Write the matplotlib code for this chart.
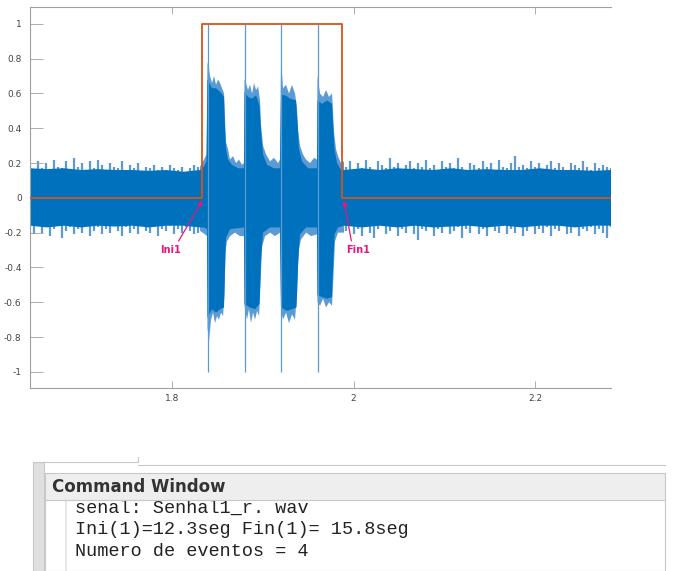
import numpy as np
import matplotlib
matplotlib.use("Agg")
import matplotlib.pyplot as plt
from matplotlib.patches import Rectangle

# --- data ------------------------------------------------------------------
# spiky peaks of the baseline noise, evenly sampled
left_top = [0.19, 0.16, 0.21, 0.17, 0.20, 0.15, 0.22, 0.18, 0.17, 0.21, 0.16,
            0.23, 0.18, 0.20, 0.16, 0.21, 0.17, 0.22, 0.19, 0.16, 0.20, 0.18,
            0.17, 0.21, 0.16, 0.19, 0.17, 0.20, 0.15, 0.18, 0.17, 0.19, 0.16,
            0.18, 0.15, 0.19, 0.17, 0.16, 0.18, 0.15, 0.17, 0.19, 0.18]
left_bot = [-0.18, -0.21, -0.16, -0.20, -0.17, -0.22, -0.18, -0.16, -0.23,
            -0.19, -0.17, -0.21, -0.18, -0.20, -0.16, -0.22, -0.19, -0.17,
            -0.21, -0.18, -0.20, -0.16, -0.19, -0.22, -0.17, -0.20, -0.18,
            -0.21, -0.16, -0.19, -0.20, -0.17, -0.22, -0.18, -0.19, -0.16,
            -0.21, -0.18, -0.20, -0.17, -0.19, -0.21, -0.20]
right_top = [0.18, 0.21, 0.16, 0.20, 0.17, 0.22, 0.18, 0.16, 0.21, 0.19,
             0.17, 0.23, 0.18, 0.20, 0.16, 0.19, 0.21, 0.17, 0.20, 0.18,
             0.22, 0.17, 0.19, 0.16, 0.21, 0.18, 0.20, 0.17, 0.23, 0.18,
             0.16, 0.20, 0.19, 0.17, 0.21, 0.18, 0.20, 0.16, 0.22, 0.18,
             0.17, 0.20, 0.24, 0.18, 0.19, 0.17, 0.21, 0.18, 0.20, 0.16,
             0.19, 0.21, 0.17, 0.20, 0.18, 0.16, 0.20, 0.19, 0.17, 0.21,
             0.18, 0.16, 0.20, 0.17, 0.19, 0.18, 0.17]
right_bot = [-0.19, -0.16, -0.21, -0.18, -0.22, -0.17, -0.20, -0.23, -0.18, -0.16,
             -0.21, -0.19, -0.17, -0.22, -0.18, -0.20, -0.16, -0.21, -0.24, -0.18,
             -0.19, -0.17, -0.22, -0.18, -0.20, -0.16, -0.21, -0.19, -0.17, -0.23,
             -0.18, -0.20, -0.16, -0.21, -0.18, -0.22, -0.17, -0.19, -0.20, -0.16,
             -0.21, -0.18, -0.20, -0.17, -0.22, -0.19, -0.16, -0.21, -0.18, -0.20,
             -0.17, -0.22, -0.18, -0.19, -0.16, -0.21, -0.20, -0.17, -0.22, -0.18,
             -0.19, -0.17, -0.21, -0.18, -0.20, -0.23, -0.17]

# outer envelope inside the detection window
burst_top_x = [1.8309, 1.8331, 1.8353, 1.8380, 1.8391, 1.8408, 1.8419, 1.8441,
               1.8463, 1.8485, 1.8507, 1.8529, 1.8551, 1.8573, 1.8584, 1.8595,
               1.8617, 1.8639, 1.8672, 1.8705, 1.8738, 1.8771, 1.8793, 1.8799,
               1.8815, 1.8837, 1.8859, 1.8882, 1.8904, 1.8926, 1.8948, 1.8970,
               1.8981, 1.9003, 1.9036, 1.9080, 1.9124, 1.9168, 1.9190, 1.9201,
               1.9223, 1.9256, 1.9289, 1.9322, 1.9355, 1.9377, 1.9388, 1.9410,
               1.9443, 1.9477, 1.9521, 1.9565, 1.9598, 1.9603, 1.9631, 1.9664,
               1.9697, 1.9730, 1.9763, 1.9774, 1.9785, 1.9807, 1.9829, 1.9862,
               1.9895]
burst_top_y = [0.18, 0.20, 0.22, 0.25, 0.78, 0.74, 0.70, 0.66, 0.70, 0.65,
               0.68, 0.66, 0.63, 0.60, 0.45, 0.32, 0.28, 0.22, 0.24, 0.20,
               0.22, 0.19, 0.20, 0.68, 0.66, 0.62, 0.65, 0.60, 0.66, 0.62,
               0.64, 0.56, 0.42, 0.30, 0.25, 0.21, 0.23, 0.20, 0.22, 0.80,
               0.63, 0.65, 0.60, 0.65, 0.60, 0.52, 0.40, 0.30, 0.25, 0.22,
               0.20, 0.23, 0.22, 0.70, 0.60, 0.58, 0.62, 0.58, 0.60, 0.50,
               0.38, 0.28, 0.24, 0.20, 0.21]
burst_bot_x = [1.8309, 1.8364, 1.8386, 1.8391, 1.8408, 1.8430, 1.8452, 1.8474,
               1.8496, 1.8518, 1.8540, 1.8562, 1.8579, 1.8590, 1.8606, 1.8639,
               1.8694, 1.8749, 1.8793, 1.8799, 1.8826, 1.8848, 1.8870, 1.8893,
               1.8915, 1.8937, 1.8959, 1.8975, 1.8992, 1.9025, 1.9080, 1.9135,
               1.9190, 1.9201, 1.9223, 1.9256, 1.9289, 1.9322, 1.9355, 1.9377,
               1.9394, 1.9421, 1.9477, 1.9532, 1.9598, 1.9603, 1.9631, 1.9664,
               1.9697, 1.9730, 1.9763, 1.9779, 1.9796, 1.9829, 1.9895]
burst_bot_y = [-0.19, -0.21, -0.22, -0.75, -0.82, -0.70, -0.66, -0.72, -0.68,
               -0.70, -0.66, -0.68, -0.55, -0.30, -0.25, -0.22, -0.20, -0.22,
               -0.22, -0.62, -0.70, -0.64, -0.72, -0.66, -0.70, -0.65, -0.68,
               -0.50, -0.28, -0.22, -0.20, -0.22, -0.20, -0.65, -0.70, -0.66,
               -0.72, -0.67, -0.70, -0.55, -0.30, -0.24, -0.20, -0.22, -0.21,
               -0.60, -0.62, -0.58, -0.63, -0.60, -0.62, -0.45, -0.25, -0.20,
               -0.20]

# inner (dense, dark) core of the signal
core_left_top = [0.17, 0.165, 0.17, 0.16, 0.165, 0.16, 0.16, 0.155, 0.16, 0.15, 0.16]
core_left_bot = [-0.16, -0.17, -0.16, -0.17, -0.16, -0.165, -0.16, -0.17, -0.16, -0.16, -0.17]
core_right_top = [0.16, 0.17, 0.16, 0.17, 0.165, 0.16, 0.17, 0.16, 0.165, 0.16,
                  0.16, 0.17, 0.16, 0.16, 0.155, 0.16]
core_right_bot = [-0.16, -0.17, -0.16, -0.17, -0.16, -0.17, -0.165, -0.16, -0.17,
                  -0.16, -0.17, -0.16, -0.16, -0.17, -0.16, -0.16]
core_top_x = [1.8353, 1.8380, 1.8391, 1.8441, 1.8485, 1.8529, 1.8573, 1.8584,
              1.8595, 1.8617, 1.8661, 1.8727, 1.8793, 1.8799, 1.8837, 1.8882,
              1.8926, 1.8964, 1.8981, 1.9003, 1.9047, 1.9124, 1.9190, 1.9201,
              1.9245, 1.9300, 1.9366, 1.9383, 1.9399, 1.9432, 1.9499, 1.9598,
              1.9603, 1.9653, 1.9708, 1.9763, 1.9774, 1.9791, 1.9818, 1.9862]
core_top_y = [0.18, 0.21, 0.68, 0.63, 0.63, 0.61, 0.58, 0.40, 0.28, 0.22,
              0.19, 0.17, 0.17, 0.61, 0.58, 0.57, 0.59, 0.53, 0.38, 0.25,
              0.19, 0.17, 0.17, 0.59, 0.59, 0.57, 0.56, 0.43, 0.28, 0.21,
              0.17, 0.17, 0.56, 0.54, 0.56, 0.54, 0.43, 0.28, 0.20, 0.16]
core_bot_x = [1.8353, 1.8386, 1.8391, 1.8441, 1.8485, 1.8529, 1.8573, 1.8584,
              1.8595, 1.8639, 1.8793, 1.8799, 1.8859, 1.8915, 1.8964, 1.8981,
              1.9003, 1.9080, 1.9190, 1.9201, 1.9267, 1.9322, 1.9372, 1.9388,
              1.9410, 1.9477, 1.9598, 1.9603, 1.9653, 1.9708, 1.9763, 1.9774,
              1.9791, 1.9829]
core_bot_y = [-0.17, -0.18, -0.69, -0.64, -0.66, -0.64, -0.63, -0.40, -0.23,
              -0.18, -0.17, -0.61, -0.63, -0.64, -0.61, -0.35, -0.20, -0.17,
              -0.17, -0.63, -0.65, -0.64, -0.63, -0.40, -0.21, -0.17, -0.17,
              -0.56, -0.57, -0.58, -0.57, -0.40, -0.21, -0.17]

# onset spikes of the four events
spike_x = [1.8391, 1.8799, 1.9196, 1.9603]
spike_top = [1.0, 1.0, 1.0, 1.0]
spike_bot = [-1.0, -1.0, -1.0, -1.0]

# detection window (Ini1 -> Fin1)
x_start, x_end = 1.6435, 2.2837
ini1, fin1 = 1.8334, 1.9870
window_x = [x_start, ini1, fin1, x_end]
window_y = [0, 1, 0, 0]

yticks = [-1, -0.8, -0.6, -0.4, -0.2, 0, 0.2, 0.4, 0.6, 0.8, 1]
ylabels = ['-1', '-0.8', '-0.6', '-0.4', '-0.2', '0', '0.2', '0.4', '0.6', '0.8', '1']
xticks = [1.8, 2.0, 2.2]
xlabels = ['1.8', '2', '2.2']

cmd_lines = ['senal: Senhal1_r. wav',
             'Ini(1)=12.3seg Fin(1)= 15.8seg',
             'Numero de eventos = 4']

# --- figure -----------------------------------------------------------------
W, H = 678, 571
fig = plt.figure(figsize=(W / 100, H / 100), dpi=100)
fig.patch.set_facecolor('white')

ax = fig.add_axes([30 / W, 1 - 388 / H, (611 - 30) / W, (388 - 7) / H])

light = '#5b9bd5'
dark = '#0072BD'

# noise peaks outside the window
lx = np.linspace(x_start, 1.8287, len(left_top))
rx = np.linspace(1.9917, x_end, len(right_top))
ax.vlines(lx, left_bot, left_top, color=light, lw=1.6, zorder=1)
ax.vlines(rx, right_bot, right_top, color=light, lw=1.6, zorder=1)

# outer envelope inside the window
ax.fill(np.r_[burst_top_x, burst_bot_x[::-1]], np.r_[burst_top_y, burst_bot_y[::-1]],
        color=light, lw=0, zorder=1)

# dense core
clx = np.linspace(x_start, 1.8309, len(core_left_top))
crx = np.linspace(1.9895, x_end, len(core_right_top))
cu_x = np.r_[clx, core_top_x, crx]
cu_y = np.r_[core_left_top, core_top_y, core_right_top]
cl_x = np.r_[clx, core_bot_x, crx]
cl_y = np.r_[core_left_bot, core_bot_y, core_right_bot]
ax.fill(np.r_[cu_x, cl_x[::-1]], np.r_[cu_y, cl_y[::-1]],
        color=dark, lw=0, zorder=2)

ax.vlines(spike_x, spike_bot, spike_top, color=light, lw=0.9, zorder=2)

ax.plot(window_x, window_y, drawstyle='steps-post', color='#D95319',
        lw=1.3, zorder=3)

mag = '#e4187c'
ax.annotate('Ini1', xy=(ini1, -0.015), xytext=(1.7978, -0.30),
            color=mag, fontsize=7, fontweight='bold', ha='center', va='center',
            arrowprops=dict(arrowstyle='-|>', color=mag, lw=0.9,
                            mutation_scale=7, relpos=(0.8, 1.0),
                            shrinkA=1, shrinkB=0))
ax.annotate('Fin1', xy=(fin1 + 0.0025, -0.015), xytext=(2.005, -0.30),
            color=mag, fontsize=7, fontweight='bold', ha='center', va='center',
            arrowprops=dict(arrowstyle='-|>', color=mag, lw=0.9,
                            mutation_scale=7, relpos=(0.25, 1.0),
                            shrinkA=1, shrinkB=0))

ax.set_xlim(x_start, x_end)
ax.set_ylim(-1.093, 1.097)
ax.set_yticks(yticks)
ax.set_yticklabels(ylabels)
ax.set_xticks(xticks)
ax.set_xticklabels(xlabels)
gray = '#a0a0a0'
ax.tick_params(axis='y', direction='in', length=9.5, width=0.6, color=gray,
               labelsize=6.5, labelcolor='#444444', pad=6, left=True, right=False)
ax.tick_params(axis='x', direction='in', length=5, width=0.6, color=gray,
               labelsize=6.5, labelcolor='#444444', pad=4, top=True, bottom=True)
for s in ['top', 'left', 'bottom']:
    ax.spines[s].set_color(gray)
    ax.spines[s].set_linewidth(0.8)
ax.spines['right'].set_visible(False)

# --- command window strip ---------------------------------------------------
cw = fig.add_axes([0, 0, 1, 131 / H])
cw.set_xlim(0, W)
cw.set_ylim(H, 440)
cw.axis('off')

line_c = '#c8c8c8'
cw.add_patch(Rectangle((45, 499), 620, 72, facecolor='white', edgecolor=line_c, lw=0.8, zorder=1))
cw.plot([66, 66], [500, 571], color='#e2e2e2', lw=1.2, zorder=2)
for i, t in enumerate(cmd_lines):
    cw.text(75, 508 + 22 * i, t, family='Liberation Mono', fontsize=13.3,
            color='#222222', ha='left', va='center', zorder=3)
cw.add_patch(Rectangle((45, 473), 620, 27, facecolor='#eeeeee', edgecolor=line_c, lw=0.8, zorder=4))
cw.text(52, 486.5, 'Command Window', fontsize=12, fontweight='bold',
        color='#333333', ha='left', va='center', zorder=5)
cw.add_patch(Rectangle((33, 462), 11, 109, facecolor='#e0e0e0', edgecolor=line_c, lw=0.8, zorder=4))
cw.plot([33, 138, 138], [462, 462, 457], color=line_c, lw=0.8, zorder=4)
cw.plot([138, 665], [465, 465], color=line_c, lw=0.8, zorder=4)

fig.savefig('out.png', dpi=100)
